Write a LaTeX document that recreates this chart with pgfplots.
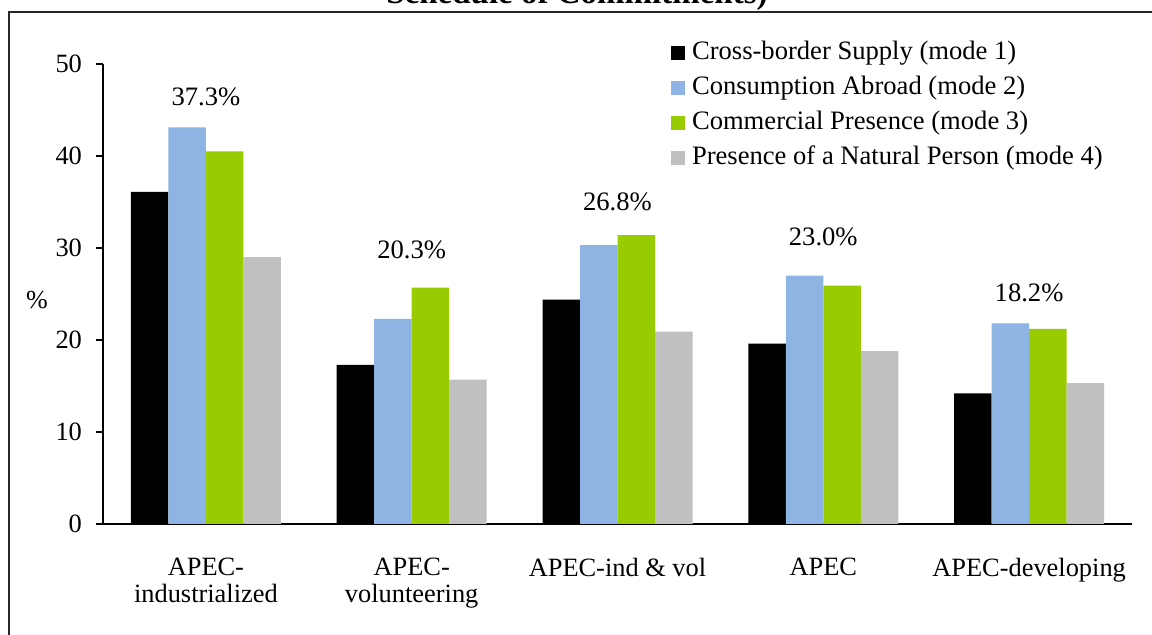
\documentclass[border=0pt]{standalone}
\usepackage{fontspec}
\setmainfont{Liberation Serif}
\usepackage{pgfplots}
\pgfplotsset{compat=1.18}

\definecolor{modeone}{RGB}{0,0,0}
\definecolor{modetwo}{RGB}{142,180,227}
\definecolor{modethree}{RGB}{153,204,0}
\definecolor{modefour}{RGB}{192,192,192}

\begin{document}
\begin{tikzpicture}
\pgfplotsset{
  sqlegend/.style={legend image code/.code={\fill[##1] (0pt,-3.5pt) rectangle (7pt,3.5pt);}},
}
\begin{axis}[
    at={(51.5pt,-262pt)}, anchor=south west,
    scale only axis,
    width=514.5pt, height=230pt,
    xmin=-0.5, xmax=4.5,
    ymin=0, ymax=50,
    ybar=0pt, bar width=18.75pt,
    axis x line*=bottom, axis y line*=left,
    axis line style={line width=1pt, black},
    xtick={0,1,2,3,4},
    xticklabels={{APEC-\\industrialized},{APEC-\\volunteering},{APEC-ind \& vol},{APEC},{APEC-developing}},
    ytick={0,10,20,30,40,50},
    xtick style={draw=none},
    ytick style={line width=1pt, black},
    tick align=outside,
    major tick length=3.5pt,
    tick label style={font=\fontsize{13.2}{13.5}\selectfont},
    xticklabel style={align=center, yshift=-10pt},
    yticklabel style={xshift=-3.5pt},
    /pgf/number format/assume math mode=true,
    sqlegend,
    legend cell align=left,
    legend style={draw=none, fill=none,
      at={(axis description cs:0.552,1.0535)}, anchor=north west,
      inner sep=0pt, outer sep=0pt, row sep=3.5pt,
      font=\fontsize{13.3}{13.5}\selectfont,
      nodes={inner sep=1pt, text height=9pt, text depth=3pt},
      /tikz/every odd column/.append style={column sep=2.5pt}},
    clip=false,
]
\addplot[fill=modeone, draw=none] coordinates {(0,36.1) (1,17.3) (2,24.4) (3,19.6) (4,14.2)};
\addplot[fill=modetwo, draw=none] coordinates {(0,43.1) (1,22.3) (2,30.3) (3,27.0) (4,21.8)};
\addplot[fill=modethree, draw=none] coordinates {(0,40.5) (1,25.7) (2,31.4) (3,25.9) (4,21.2)};
\addplot[fill=modefour, draw=none] coordinates {(0,29.0) (1,15.7) (2,20.9) (3,18.8) (4,15.3)};
\legend{Cross-border Supply (mode 1),Consumption Abroad (mode 2),Commercial Presence (mode 3),Presence of a Natural Person (mode 4)}
% group averages written above each cluster
\node[font=\fontsize{13.3}{13.5}\selectfont] at (axis cs:0,46.4) {37.3\%};
\node[font=\fontsize{13.3}{13.5}\selectfont] at (axis cs:1,29.8) {20.3\%};
\node[font=\fontsize{13.3}{13.5}\selectfont] at (axis cs:2,35.0) {26.8\%};
\node[font=\fontsize{13.3}{13.5}\selectfont] at (axis cs:3,31.2) {23.0\%};
\node[font=\fontsize{13.3}{13.5}\selectfont] at (axis cs:4,25.1) {18.2\%};
\end{axis}
\node[font=\fontsize{13}{13.5}\selectfont] at (18.5pt,-150pt) {\%};
\draw[line width=1pt, black!85] (4.5pt,-400pt) -- (4.5pt,-6pt) -- (700pt,-6pt);
\node[font=\bfseries\fontsize{16.5}{17}\selectfont, anchor=base] at (288.5pt,-2pt) {Schedule of Commitments)};
\pgfresetboundingbox
\useasboundingbox (0pt,0pt) rectangle (576pt,-317.5pt);
\end{tikzpicture}
\end{document}
